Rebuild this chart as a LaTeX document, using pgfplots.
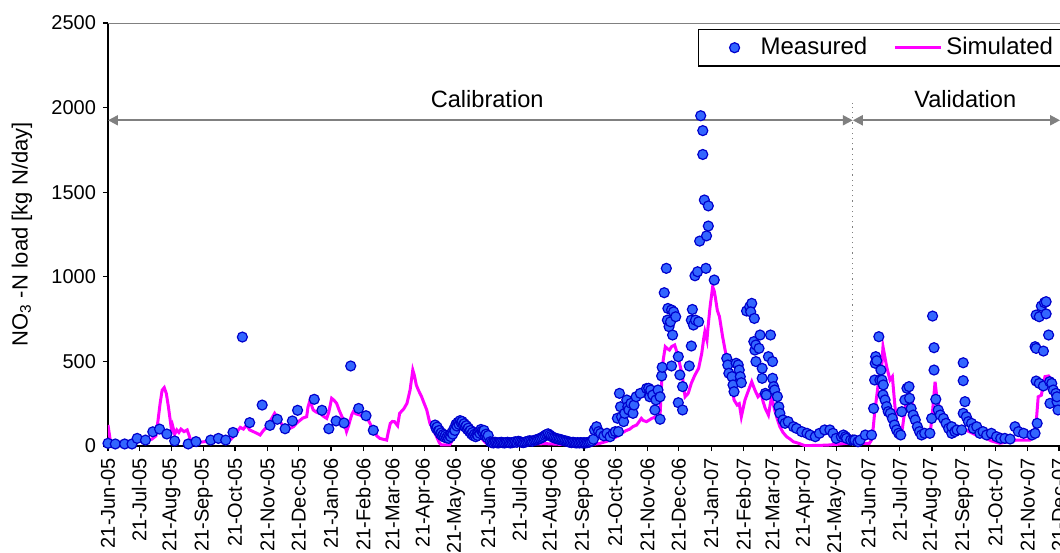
\documentclass[border=0pt]{standalone}
\usepackage{fontspec}
\setmainfont{Liberation Sans}
\usepackage{pgfplots}
\pgfplotsset{compat=1.18}
\usetikzlibrary{arrows.meta}
\definecolor{mfill}{RGB}{51,102,255}
\definecolor{medge}{RGB}{0,0,204}
\definecolor{simc}{RGB}{255,0,255}
\definecolor{annot}{RGB}{128,128,128}
\begin{document}
\begin{tikzpicture}
\begin{axis}[
  at={(0,0)}, anchor=south west,
  scale only axis, width=500pt, height=211.5pt,
  xmin=0, xmax=960, ymin=0, ymax=2500,
  axis x line*=bottom, axis y line*=left,
  axis line style={black, line width=0.6pt},
  xtick={0,30,61,92,122,153,183,214,245,273,304,334,365,395,426,457,487,518,548,579,610,638,669,699,730,760,791,822,852,883,913},
  xticklabels={21-Jun-05,21-Jul-05,21-Aug-05,21-Sep-05,21-Oct-05,21-Nov-05,21-Dec-05,21-Jan-06,21-Feb-06,21-Mar-06,21-Apr-06,21-May-06,21-Jun-06,21-Jul-06,21-Aug-06,21-Sep-06,21-Oct-06,21-Nov-06,21-Dec-06,21-Jan-07,21-Feb-07,21-Mar-07,21-Apr-07,21-May-07,21-Jun-07,21-Jul-07,21-Aug-07,21-Sep-07,21-Oct-07,21-Nov-07,21-Dec-07},
  x tick label style={rotate=90, anchor=east, font=\fontsize{10}{12}\selectfont},
  ytick={0,500,1000,1500,2000,2500},
  y tick label style={font=\fontsize{10}{12}\selectfont},
  /pgf/number format/assume math mode=true,
  /pgf/number format/1000 sep={},
  tick align=outside, major tick length=2.5pt,
  tick style={black, line width=0.6pt},
  legend columns=2,
  legend style={at={(0.59,0.986)}, anchor=north west, draw=black, line width=0.6pt,
    font=\fontsize{12}{13.5}\selectfont, /tikz/every even column/.append style={column sep=11pt}},
]
\draw[annot, line width=0.8pt] (rel axis cs:0,1) -- (rel axis cs:1,1);
\addplot[simc, line width=1.5pt, forget plot] coordinates {
(0,124)(2,40)(4,8)(12,5)(20,10)(28,25)(36,35)(42,40)(46,60)(48,150)(50,250)(52,330)(54,345)(56,310)(58,232)(60,140)(61,95)(62,120)(64,70)(66,95)(68,80)(70,100)(73,85)(76,95)(78,60)(80,20)(88,22)(96,28)(106,30)(114,30)(118,40)(121,60)(124,85)(127,110)(130,100)(133,124)(136,95)(139.5,85)(143,75)(146,65)(149,90)(152,110)(156,150)(160,193)(163,165)(165,145)(168,120)(171.5,95)(175,105)(178,114)(181,135)(184,150)(187,165)(190.7,173)(192,230)(194,272)(196,230)(197,213)(200,200)(203.5,193)(207,175)(210,163)(212,200)(214.7,282)(217,270)(219.5,252)(222,210)(226,154)(229,85)(231,120)(232,144)(234,185)(235.5,203)(238,190)(242,183)(245,170)(248,173)(251,140)(254.7,95)(258,60)(261,45)(264,40)(267.5,35)(269,80)(271,134)(273,145)(275,144)(278,120)(280,193)(284,220)(287,252)(290,331)(292.6,449)(294,420)(296,360)(298,330)(301,292)(303,260)(306,213)(309,134)(312,100)(315.5,55)(318,20)(320,6)(328,6)(331,40)(335,87)(338,150)(341,163)(344,140)(347,124)(351,105)(354,95)(357,70)(360,35)(364,12)(367,5)(380,8)(400,10)(420,14)(440,8)(466,10)(472,15)(480,30)(485,45)(490,60)(493,75)(497,90)(501,100)(504,115)(507.5,124)(510,145)(512,163)(514,150)(517,144)(520,155)(522,163)(526,173)(528,178)(530,183)(531.5,371)(533,508)(535,587)(537,575)(539,567)(541,587)(544,597)(547.5,528)(549,480)(551,430)(554,291)(557,311)(560,371)(563.5,420)(567,459)(570,548)(572,640)(573,676)(575,626)(576,700)(578,823)(580.5,942)(582,915)(583,880)(585,800)(587,765)(590,647)(593,548)(596,470)(598,410)(601,272)(604,242)(606,250)(608,173)(610,230)(611.5,272)(615,331)(618,380)(621,331)(624,291)(627,311)(629,260)(631,222)(634,183)(637,291)(640,213)(643,150)(645,114)(648,80)(651.5,55)(655,40)(658,25)(663,16)(669,2)(690,5)(700,10)(709,16)(720,16)(731,16)(733,35)(734.5,100)(736,197)(739.5,370)(743,489)(744,587)(746,520)(747.5,469)(750.7,390)(753,410)(755.5,233)(757,150)(759,95)(762,75)(765,213)(767,280)(769,311)(772,252)(775,154)(778,110)(780,75)(786,55)(789,55)(791.7,213)(794,380)(796,272)(799,213)(803.5,154)(808,130)(813,95)(820,100)(825,90)(830,75)(835,60)(840,55)(848,30)(856,16)(864,25)(872,35)(880,35)(885,35)(889,60)(891.5,173)(893,291)(896,300)(899.5,410)(903,414)(906,390)(909,331)(912,300)(916,291)(925,260)(935,230)(945,200)
};
\addplot[only marks, mark=*, mark size=2.5pt, mark options={draw=medge, fill=mfill, line width=0.6pt},
  legend image code/.code={\path[draw=none, fill=none] (0pt,0pt) -- (26pt,0pt); \path[draw=none] plot[mark=*, mark size=2.5pt, mark options={draw=medge, fill=mfill, line width=0.6pt}] coordinates {(15pt,0pt)};}] coordinates {
(0,16)(7,12)(16,12)(23,12)(28,45)(36,35)(43,84)(49.5,100)(56.5,71)(64,30)(77,12)(84.5,26)(98.6,35)(106,45)(113,35)(120,80)(129,644)(136,138)(148,242)(155.5,122)(162.5,158)(170,102)(177,148)(182,211)(198,276)(205.4,211)(212,102)(219,148)(226.6,136)(233,473)(240.6,222)(247.7,179)(254.7,93)
(314,124)(315,104)(316,112)(317,88)(318,92)(319,70)(320,78)(321,60)(322,68)(323,52)(324,64)(325,48)(326,58)(327,45)(328,62)(329,55)(330,78)(331,70)(332,100)(333,92)(334,128)(335,118)(336,140)(337,128)(338,150)(339,138)(340,145)(341,125)(342,132)(343,112)(344,120)(345,98)(346,106)(347,85)(348,92)(349,70)(350,80)(351,60)(352,70)(353,55)(354,68)(355,62)(356,85)(357,75)(358,98)(359,88)(360,80)(361,92)(362,60)(363,70)(364,50)(365,62)
(367,25)(368.5,20)(370,18)(371.5,22)(373,20)(374.5,18)(376,20)(377.5,22)(379,20)(380.5,18)(382,20)(383.5,22)(385,20)(386.5,18)(388,20)(389.5,22)(391,25)(392.5,22)(394,28)(395.5,25)(397,22)(398.5,20)(400,22)(401.5,25)(403,28)(404.5,31)(406,30)(407.5,28)(409,33)(410.5,35)(412,38)(413.5,42)(415,45)(416.5,50)(418,55)(419.5,62)(421,68)(422.5,72)(424,65)(425.5,58)(427,52)(428.5,48)(430,45)(431.5,42)(433,40)(434.5,38)(436,35)(437.5,32)(439,30)(440.5,28)(442,25)(443.5,22)(445,20)(446.5,22)(448,20)(449.5,18)(451,20)(452.5,18)(454,20)(455.5,18)(457,20)(458.5,18)(460,20)(461.5,22)(463,25)(464.5,30)(466,40)
(467,95)(469,114)(471,85)(473,75)(476,60)(479,75)(482,55)(485,75)(487,85)(489,164)(490,85)(491,311)(492,232)(493,173)(495,144)(496,193)(498,272)(499,232)(500,213)(502,252)(504,193)(505,242)(507,291)(511,311)(517,340)(519,341)(520,291)(521,331)(523,301)(525,213)(526,272)(528,331)(530,291)(530,158)(531.5,414)(532,465)(534,906)(536,1050)(537,744)(537.5,813)(538.6,705)(540,734)(541,804)(541,473)(542,656)(543,793)(545,764)(547.5,528)(547.5,256)(549,420)(551.6,351)(551.6,213)(558,473)(560,591)(560,744)(561,807)(562,715)(564,744)(567,734)(568,1211)(569,1952)(571,1864)(571,1723)(572.5,1454)(574.6,1242)(576.3,1419)(576.3,1300)(563.5,1006)(566,1030)(574,1050)(582,981)
(594,518)(595,479)(596,430)(599,410)(600,361)(601,321)(603,489)(605,479)(606,449)(607,410)(608,374)(613,798)(616,823)(618,843)(617,793)(620.5,754)(620,617)(621,567)(622,597)(625,577)(626,656)(622,499)(628,459)(628,400)(634,528)(636,656)(638,499)(638,400)(631,311)(632,301)(639,351)(640,331)(642.6,292)(644,232)(645,193)(648,154)(650,134)(653,144)(658,114)(661,104)(666,85)(671,75)(674,65)(679,55)(683,75)(688,95)(693,95)(696,75)(699,45)(704,55)(706,65)(708,55)(709,45)(713,35)(715.5,35)(717,35)(720,25)(722,35)(727,65)(733,65)
(735,222)(736,390)(736.5,489)(737,528)(738,504)(740,646)(742,449)(741,390)(743,390)(744.3,361)(744,302)(746,272)(747.5,233)(749,203)(751,193)(753,163)(755,124)(757,95)(759,75)(761,65)(762,203)(765,272)(767,341)(769,351)(769.5,282)(771,222)(773,183)(775,154)(777,114)(779,85)(781,65)(784,75)(789,75)(790.7,163)(791.6,768)(793,581)(793,449)(794.7,276)(797,213)(799,183)(802,163)(804.5,134)(807,104)(810,75)(810,114)(813,85)(815,95)(819.5,95)(821,492)(821,386)(822.7,262)(821,193)(824,173)(826,144)(829,134)(830.7,104)(834,114)(837,75)(840,85)(843.5,65)(848,75)(853,55)(857,45)(861,45)(866,41)(870.7,114)(874,85)(879,75)(887,65)(890,75)(892,134)(890,587)(891,774)(894,764)(896,827)(899,847)(900.6,853)(900.6,781)(891,577)(898,561)(903,656)(891,384)(894,370)(898,355)(904,380)(906,370)(904.3,252)(907.5,331)(910,311)(911,262)(912,213)(911,291)
};
\addlegendentry{Measured}
\addlegendimage{legend image code/.code={\draw[simc, line width=1.5pt] (0pt,0pt) -- (23pt,0pt);}}
\addlegendentry{Simulated\hspace*{6pt}}
\draw[annot, line width=1pt, {Triangle[length=5pt,width=5pt]}-{Triangle[length=5pt,width=5pt]}] (axis cs:0,1925) -- (axis cs:715,1925);
\draw[annot, line width=1pt, {Triangle[length=5pt,width=5pt]}-{Triangle[length=5pt,width=5pt]}] (axis cs:715,1925) -- (axis cs:914,1925);
\draw[annot, dotted, line width=0.6pt] (axis cs:715,0) -- (axis cs:715,2030);
\node[font=\fontsize{11.8}{13}\selectfont] at (axis cs:364,2050) {Calibration};
\node[font=\fontsize{11.8}{13}\selectfont] at (axis cs:823,2050) {Validation};
\end{axis}
\node[rotate=90, font=\fontsize{11}{13}\selectfont] at (-43pt,105.75pt) {NO\textsubscript{3} -N load [kg N/day]};
\pgfresetboundingbox
\path[use as bounding box] (-54pt,-53pt) rectangle (476pt,223pt);
\end{tikzpicture}
\end{document}
